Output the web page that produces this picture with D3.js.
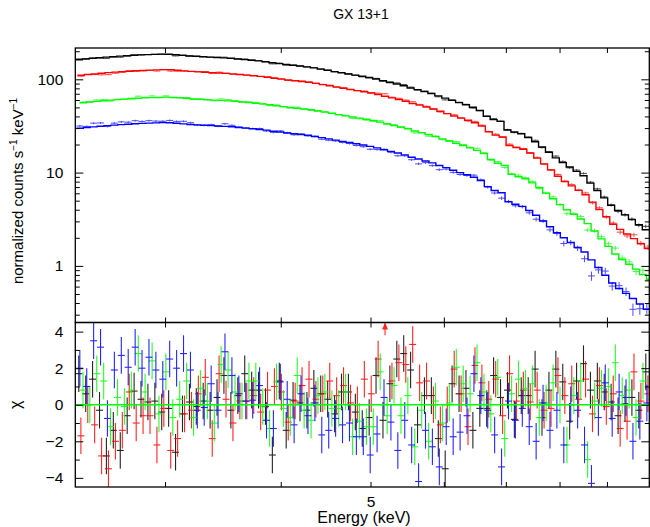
<!DOCTYPE html>
<html>
<head>
<meta charset="utf-8">
<script src="https://cdn.jsdelivr.net/npm/d3@7"></script>
<style>
  body { margin: 0; background: #fff; }
  svg text { font-family: "Liberation Sans", Arial, sans-serif; fill: #000; }
</style>
</head>
<body>
<svg id="chart" width="650" height="527"></svg>
<script>
// ---- data ----
const title = "GX 13+1";

// channel grid (keV), 83 bins from 2.4 to 10 keV
const binEdges = [
  2.400, 2.442, 2.484, 2.527, 2.571, 2.615, 2.661, 2.707, 2.754, 2.802,
  2.850, 2.900, 2.950, 3.001, 3.053, 3.106, 3.160, 3.215, 3.270, 3.327,
  3.385, 3.443, 3.503, 3.564, 3.626, 3.689, 3.753, 3.818, 3.884, 3.951,
  4.020, 4.089, 4.160, 4.232, 4.306, 4.380, 4.456, 4.534, 4.612, 4.692,
  4.774, 4.856, 4.941, 5.026, 5.113, 5.202, 5.292, 5.384, 5.477, 5.572,
  5.669, 5.767, 5.867, 5.969, 6.072, 6.178, 6.285, 6.394, 6.505, 6.618,
  6.732, 6.849, 6.968, 7.089, 7.211, 7.337, 7.464, 7.593, 7.725, 7.859,
  7.995, 8.134, 8.275, 8.418, 8.564, 8.713, 8.864, 9.017, 9.174, 9.333,
  9.495, 9.659, 9.827, 10.000
];

// folded model, normalized counts s^-1 keV^-1, one value per bin
const modelBlack = [
  162.2,165.1,167.5,170.4,172.9,175.1,177.3,179.0,181.3,182.6,
  184.0,184.9,186.3,185.4,183.1,180.8,178.1,176.4,174.6,172.9,
  171.6,169.9,167.9,165.1,162.6,160.2,157.5,154.4,150.6,147.3,
  144.1,141.6,138.9,136.1,132.5,128.6,124.9,120.9,117.4,114.0,
  110.9,107.7,104.5,100.7,96.6,92.6,89.0,85.4,80.7,77.5,
  74.0,70.4,66.5,62.9,59.4,56.3,53.3,50.1,46.3,40.2,
  37.0,35.4,28.6,27.2,26.1,23.8,21.4,18.8,16.5,14.4,
  12.8,11.5,10.3,9.24,7.72,6.43,5.36,4.47,3.93,3.52,
  3.13,2.76,2.44
];
const modelRed = [
  110.6,112.6,114.2,116.2,117.9,119.4,120.9,122.1,123.6,124.5,
  125.5,126.1,127.1,126.4,124.9,123.3,121.5,120.3,119.1,117.9,
  117.0,115.9,114.5,112.6,110.9,109.3,107.4,105.3,102.7,100.5,
  98.3,96.6,94.7,92.8,90.4,87.7,85.2,82.5,80.1,77.7,
  75.6,73.5,71.3,68.7,65.9,63.2,60.7,58.2,55.0,52.9,
  50.5,48.0,45.4,42.9,40.5,38.4,36.4,34.2,31.6,27.4,
  25.2,24.1,19.5,18.6,17.8,16.2,14.3,12.4,10.7,9.13,
  8.01,7.20,6.45,5.78,4.83,4.03,3.36,2.80,2.46,2.20,
  1.96,1.73,1.53
];
const modelGreen = [
  56.1,57.1,58.0,59.0,59.8,60.6,61.3,61.9,62.7,63.2,
  63.7,64.0,64.5,64.1,63.4,62.6,61.6,61.0,60.4,59.8,
  59.4,58.8,58.1,57.1,56.3,55.4,54.5,53.4,52.1,51.0,
  49.9,49.0,48.1,47.1,45.8,44.5,43.2,41.8,40.6,39.4,
  38.4,37.3,36.2,34.8,33.4,32.0,30.8,29.5,27.9,26.8,
  25.6,24.4,23.0,21.8,20.6,19.5,18.4,17.3,16.0,13.8,
  12.6,11.9,9.57,9.02,8.59,7.76,6.92,6.03,5.25,4.54,
  4.00,3.57,3.18,2.84,2.36,1.95,1.62,1.34,1.17,1.04,
  0.923,0.808,0.710
];
const modelBlue = [
  29.9,30.4,30.9,31.4,31.9,32.3,32.7,33.0,33.4,33.7,
  33.9,34.1,34.4,34.2,33.8,33.3,32.8,32.5,32.2,31.9,
  31.6,31.3,31.0,30.4,30.0,29.5,29.0,28.5,27.8,27.2,
  26.6,26.1,25.6,25.1,24.4,23.7,23.0,22.3,21.6,21.0,
  20.4,19.8,19.1,18.4,17.6,16.9,16.2,15.5,14.6,14.0,
  13.3,12.7,11.9,11.3,10.6,10.0,9.49,8.91,8.23,7.07,
  6.43,6.09,4.87,4.58,4.35,3.92,3.49,3.03,2.63,2.27,
  2.00,1.78,1.58,1.41,1.16,0.961,0.794,0.656,0.572,0.508,
  0.447,0.391,0.342
];

// residuals (data - model) / sigma, one value per bin
const residBlack = [
  1.7,0.6,1.4,-0.3,-2.8,-1.4,-2.5,-0.6,0.75,0.3,
  0.15,0.2,-0.4,-0.2,-2.6,-0.5,0.15,-0.1,0.2,-0.3,
  0.4,1.6,-0.3,0.5,1.7,0.8,0.8,-0.1,-2.75,1.3,
  -1.4,0.25,0.1,-0.3,0.9,0.6,0.3,-0.5,0.7,0.7,
  -0.4,-1.3,-0.7,1.6,-0.85,1.15,2.5,2.8,1.9,-1.1,
  0.5,0.5,-1.85,-3.5,1.15,0.6,0.9,-1.4,-0.2,-0.2,
  1.6,0.4,0.8,-0.8,0.5,0.5,1.95,-0.7,0.8,1.95,
  1.25,-0.9,1.3,2.25,0.8,1.3,0.7,0.15,-0.6,0.05,
  0.4,-0.3,1.8
];
const residRed = [
  -1.7,0.0,-1.1,-2.8,-3.5,-2.0,-1.4,0.7,-1.0,-0.6,
  -0.6,-2.2,-0.2,-2.5,-1.85,-0.5,-0.3,0.6,1.5,-1.85,
  1.7,0.3,-1.0,0.2,0.2,0.5,-0.4,0.8,1.0,0.7,
  -0.95,0.2,1.05,1.4,0.3,0.6,1.3,0.5,1.05,0.1,
  0.0,1.4,0.6,2.5,4.8,1.3,2.3,2.2,3.3,1.2,
  1.3,0.0,-1.1,0.0,1.95,0.6,-1.2,2.15,1.2,0.3,
  1.4,-0.6,1.7,0.2,0.8,0.15,0.8,-0.3,-0.2,1.6,
  0.5,1.15,0.3,1.4,-0.5,1.05,-0.1,0.6,-1.3,-0.9,
  1.8,0.2,0.6
];
const residGreen = [
  0.8,0.0,1.7,1.3,-1.2,0.4,-0.1,0.8,2.8,0.7,
  2.4,-0.5,1.8,-0.7,0.3,1.3,-0.7,0.9,0.2,-1.0,
  2.2,1.9,0.7,0.2,1.3,1.3,-0.1,-1.3,1.25,-0.2,
  -0.7,1.6,-0.3,-0.85,0.5,0.7,-0.2,-0.2,0.7,-1.75,
  -0.9,-1.2,-1.2,1.8,-0.6,1.05,-0.6,0.5,-2.3,-0.3,
  -2.0,0.2,-1.0,0.1,2.05,1.15,0.6,2.3,0.7,-0.5,
  1.5,-1.85,0.6,1.4,0.9,1.15,-0.7,0.1,1.2,0.0,
  -2.2,0.5,1.3,-3.0,0.2,0.9,1.0,2.3,0.5,0.8,
  -0.7,1.3,0.3
];
const residBlue = [
  2.0,1.0,3.5,3.15,-0.75,1.9,2.7,2.05,3.15,2.0,
  2.6,1.9,1.4,2.5,2.0,2.8,1.9,-0.3,-0.15,1.15,
  -0.3,2.9,1.6,0.6,0.2,0.25,1.05,-0.85,-1.3,1.25,
  0.3,-1.1,0.6,-0.6,0.1,-1.65,-1.4,-0.75,-1.1,-1.0,
  -1.75,-1.75,-2.75,-1.6,0.4,-0.95,-2.5,-0.85,-2.2,-4.2,
  -1.4,-2.3,-3.4,-1.2,-1.75,-1.5,-0.6,1.7,0.5,-0.3,
  -1.65,-3.4,0.2,-0.85,-0.2,-1.2,-2.0,0.1,-1.4,-0.3,
  -2.2,0.0,-0.3,-2.2,-4.3,-0.7,1.2,-0.75,0.7,0.4,
  -2.0,-0.9,0.1
];

const exposureSec = 1000;          // used for the counting errors
const spectrumColors = ["#000000", "#ff0000", "#00ff00", "#0000ff"];
const binShift = [0, 0.3, 0.6, 0.15]; // channel offsets between the detectors

const energyTicks = [3, 4, 5, 6, 7, 8, 9, 10];
const energyLabels = [5];
const countTicks = [1, 10, 100];
const countMinorTicks = [0.3,0.4,0.5,0.6,0.7,0.8,0.9, 2,3,4,5,6,7,8,9, 20,30,40,50,60,70,80,90, 200];
const chiTicks = [-4, -2, 0, 2, 4];
const chiMinorTicks = [-3, -1, 1, 3];

// ---- layout ----
const svg = d3.select("#chart");
const left = 75.3, right = 649.3;
const topY0 = 48, splitY = 322.5, botY1 = 487;

const x = d3.scaleLog().domain([2.4, 10]).range([left, right]);
const yTop = d3.scaleLog().domain([0.2473, 216.6]).range([splitY, topY0]);
const yChi = d3.scaleLinear().domain([-4.5, 4.5]).range([botY1, splitY]);

const defs = svg.append("defs");
defs.append("clipPath").attr("id", "clipTop")
  .append("rect").attr("x", left).attr("y", topY0).attr("width", right - left).attr("height", splitY - topY0);
defs.append("clipPath").attr("id", "clipBot")
  .append("rect").attr("x", left).attr("y", splitY).attr("width", right - left).attr("height", botY1 - splitY);

const spectra = [
  { model: modelBlack, resid: residBlack },
  { model: modelRed, resid: residRed },
  { model: modelGreen, resid: residGreen },
  { model: modelBlue, resid: residBlue }
].map((s, k) => {
  s.color = spectrumColors[k];
  s.bins = s.model.map((m, i) => {
    const lo = binEdges[i], hi = binEdges[i + 1];
    const x0 = x(lo), x1 = x(hi), dx = (x1 - x0) * binShift[k];
    const sigma = Math.sqrt(m * (hi - lo) * exposureSec) / ((hi - lo) * exposureSec);
    const r = s.resid[i];
    return { px0: x0 + dx, px1: x1 + dx, model: m, r: r, sigma: sigma, data: m + r * sigma };
  });
  return s;
});

const gTop = svg.append("g").attr("clip-path", "url(#clipTop)");
const gBot = svg.append("g").attr("clip-path", "url(#clipBot)");

spectra.forEach(s => {
  // data crosses, upper panel
  const g = gTop.append("g").attr("stroke", s.color).attr("stroke-width", 1).attr("opacity", 0.7);
  g.selectAll("line.h").data(s.bins).join("line").attr("class", "h")
    .attr("x1", d => d.px0).attr("x2", d => d.px1)
    .attr("y1", d => yTop(d.data)).attr("y2", d => yTop(d.data));
  g.selectAll("line.v").data(s.bins).join("line").attr("class", "v")
    .attr("x1", d => (d.px0 + d.px1) / 2).attr("x2", d => (d.px0 + d.px1) / 2)
    .attr("y1", d => yTop(d.data - d.sigma)).attr("y2", d => yTop(d.data + d.sigma));

  // model histogram
  const pts = s.bins.map(d => [d.px0, d.model]);
  const last = s.bins[s.bins.length - 1];
  pts.push([last.px1, last.model]);
  gTop.append("path").datum(pts)
    .attr("fill", "none").attr("stroke", s.color).attr("stroke-width", 1.4)
    .attr("d", d3.line().x(d => d[0]).y(d => yTop(d[1])).curve(d3.curveStepAfter));

  // residual crosses
  const gr = gBot.append("g").attr("stroke", s.color).attr("stroke-width", 1.1).attr("opacity", 0.85);
  gr.selectAll("line.h").data(s.bins).join("line").attr("class", "h")
    .attr("x1", d => d.px0).attr("x2", d => d.px1)
    .attr("y1", d => yChi(d.r)).attr("y2", d => yChi(d.r));
  gr.selectAll("line.v").data(s.bins).join("line").attr("class", "v")
    .attr("x1", d => (d.px0 + d.px1) / 2).attr("x2", d => (d.px0 + d.px1) / 2)
    .attr("y1", d => yChi(d.r - 1)).attr("y2", d => yChi(d.r + 1));
  // arrows for points above the panel
  gr.selectAll("path.arrow").data(s.bins.filter(d => d.r > 4.5)).join("path").attr("class", "arrow")
    .attr("fill", s.color).attr("stroke", "none")
    .attr("d", d => {
      const c = (d.px0 + d.px1) / 2, t = yChi(4.5);
      return `M${c - 3},${t + 7}L${c + 3},${t + 7}L${c},${t}Z`;
    });
});

// zero line
gBot.append("line")
  .attr("x1", left).attr("x2", right)
  .attr("y1", yChi(0)).attr("y2", yChi(0))
  .attr("stroke", "#00ff00").attr("stroke-width", 1.5);

// ---- axes ----
const styleAxis = g => {
  g.select(".domain").remove();
  g.selectAll(".tick line").attr("stroke", "#000").attr("stroke-width", 1);
  g.selectAll("text").attr("font-size", 15.5).attr("font-family", null).attr("fill", "#000");
  g.attr("font-family", null);
};
const noLabel = () => "";

function axis(gen, tr) {
  svg.append("g").attr("transform", tr).call(gen).call(styleAxis);
}

// upper panel
axis(d3.axisLeft(yTop).tickValues(countTicks).tickSize(-8).tickPadding(12).tickFormat(d3.format("d")), `translate(${left},0)`);
axis(d3.axisLeft(yTop).tickValues(countMinorTicks).tickSize(-4.5).tickFormat(noLabel), `translate(${left},0)`);
axis(d3.axisRight(yTop).tickValues(countTicks).tickSize(-8).tickFormat(noLabel), `translate(${right},0)`);
axis(d3.axisRight(yTop).tickValues(countMinorTicks).tickSize(-4.5).tickFormat(noLabel), `translate(${right},0)`);
axis(d3.axisTop(x).tickValues(energyTicks).tickSize(-5).tickFormat(noLabel), `translate(0,${topY0})`);
axis(d3.axisBottom(x).tickValues(energyTicks).tickSize(-5).tickFormat(noLabel), `translate(0,${splitY})`);

// lower panel
const fmtChi = d => d < 0 ? "\u2212" + Math.abs(d) : String(d);
axis(d3.axisLeft(yChi).tickValues(chiTicks).tickSize(-8).tickPadding(12).tickFormat(fmtChi), `translate(${left},0)`);
axis(d3.axisLeft(yChi).tickValues(chiMinorTicks).tickSize(-4.5).tickFormat(noLabel), `translate(${left},0)`);
axis(d3.axisRight(yChi).tickValues(chiTicks).tickSize(-8).tickFormat(noLabel), `translate(${right},0)`);
axis(d3.axisRight(yChi).tickValues(chiMinorTicks).tickSize(-4.5).tickFormat(noLabel), `translate(${right},0)`);
axis(d3.axisTop(x).tickValues(energyTicks).tickSize(-5).tickFormat(noLabel), `translate(0,${splitY})`);
axis(d3.axisBottom(x).tickValues(energyTicks).tickSize(-5).tickPadding(9)
  .tickFormat(d => energyLabels.includes(d) ? String(d) : ""), `translate(0,${botY1})`);

// frames
svg.append("rect").attr("x", left).attr("y", topY0).attr("width", right - left).attr("height", splitY - topY0)
  .attr("fill", "none").attr("stroke", "#000").attr("stroke-width", 1.3);
svg.append("rect").attr("x", left).attr("y", splitY).attr("width", right - left).attr("height", botY1 - splitY)
  .attr("fill", "none").attr("stroke", "#000").attr("stroke-width", 1.3);

// ---- texts ----
svg.append("text").attr("x", 361).attr("y", 19.3).attr("text-anchor", "middle")
  .attr("font-size", 14).text(title);

svg.append("text").attr("x", 364).attr("y", 523).attr("text-anchor", "middle")
  .attr("font-size", 16).text("Energy (keV)");

const yl = svg.append("text").attr("transform", "translate(23,191) rotate(-90)")
  .attr("text-anchor", "middle").attr("font-size", 15);
yl.append("tspan").text("normalized counts s");
yl.append("tspan").attr("font-size", 10).attr("dy", -6).text("\u22121");
yl.append("tspan").attr("dy", 6).text(" keV");
yl.append("tspan").attr("font-size", 10).attr("dy", -6).text("\u22121");

svg.append("text").attr("transform", `translate(21,${yChi(0)}) rotate(-90)`)
  .attr("text-anchor", "middle").attr("font-size", 16).text("\u03c7");
</script>
</body>
</html>
